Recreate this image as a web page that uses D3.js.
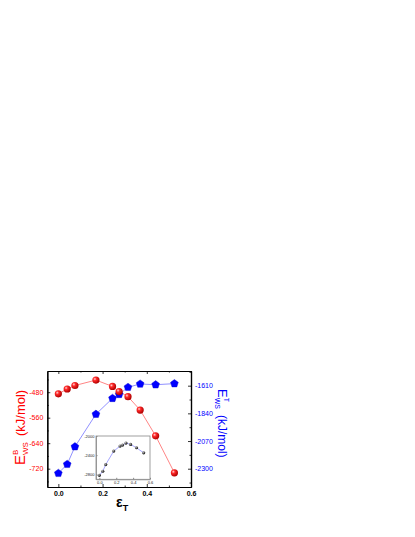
<!DOCTYPE html>
<html lang="en">
<head>
<meta charset="utf-8">
<title>strain energy</title>
<script src="https://cdn.jsdelivr.net/npm/d3@7"></script>
<style>
  body { margin: 0; background: #fff; }
  text { font-family: "Liberation Sans", Arial, sans-serif; }
</style>
</head>
<body>
<script>
// data
var strain = [0, 0.04, 0.075, 0.17, 0.245, 0.275, 0.315, 0.37, 0.44, 0.525];
var eBws = [-485, -470, -459, -442, -462, -478, -494, -536, -617, -733];
var eTws = [-2338, -2263, -2117, -1847, -1715, -1682, -1623, -1596, -1602, -1593];
var insetVals = [-2821, -2737, -2598, -2316, -2211, -2190, -2147, -2177, -2246, -2352];

var xTicks = [0, 0.2, 0.4, 0.6];
var xMinor = [0.1, 0.3, 0.5];
var leftTicks = [-720, -640, -560, -480];
var leftMinor = [-760, -680, -600, -520, -440];
var rightTicks = [-2300, -2070, -1840, -1610];
var rightMinor = [-2415, -2185, -1955, -1725, -1495];
var insetXTicks = [0, 0.2, 0.4, 0.6];
var insetYTicks = [-2800, -2400, -2000];

var w = 415, h = 537;
var box = {l: 47.3, r: 191, t: 371, b: 487};

// plain hyphen minus, no thousands comma
var plain = function(d) { return String(d); };
var oneDec = function(d) { return d.toFixed(1); };

var svg = d3.select("body").append("svg")
  .attr("width", w)
  .attr("height", h);

var defs = svg.append("defs");
var grad = defs.append("radialGradient").attr("id", "ball")
  .attr("cx", "35%").attr("cy", "35%").attr("r", "65%");
grad.append("stop").attr("offset", "0%").attr("stop-color", "#ffd8d8");
grad.append("stop").attr("offset", "35%").attr("stop-color", "#ff2a2a");
grad.append("stop").attr("offset", "100%").attr("stop-color", "#b00000");
var grad2 = defs.append("radialGradient").attr("id", "ballk")
  .attr("cx", "35%").attr("cy", "35%").attr("r", "65%");
grad2.append("stop").attr("offset", "0%").attr("stop-color", "#bbbbbb");
grad2.append("stop").attr("offset", "100%").attr("stop-color", "#111111");

// scales
var x = d3.scaleLinear().domain([-0.05, 0.6]).range([box.l, box.r]);
var yL = d3.scaleLinear().domain([-777.5, -413.5]).range([box.b, box.t]);
var yR = d3.scaleLinear().domain([-2452, -1488]).range([box.b, box.t]);

// pentagon symbol
var pentagon = {
  draw: function(ctx, size) {
    var r = Math.sqrt(size / 2.378);
    for (var i = 0; i < 5; i++) {
      var a = -Math.PI / 2 + i * 2 * Math.PI / 5;
      if (i === 0) ctx.moveTo(r * Math.cos(a), r * Math.sin(a));
      else ctx.lineTo(r * Math.cos(a), r * Math.sin(a));
    }
    ctx.closePath();
  }
};

function styleAxis(g, col) {
  g.select(".domain").attr("stroke", "#000").attr("stroke-width", 1.2);
  g.selectAll(".tick line").attr("stroke", "#000").attr("stroke-width", 0.8);
  g.selectAll(".tick text").attr("fill", col).attr("font-size", 7)
    .attr("font-family", "Liberation Sans, Arial, sans-serif");
}

// bottom axis
var gb = svg.append("g").attr("transform", "translate(0," + box.b + ")")
  .call(d3.axisBottom(x).tickValues(xTicks).tickFormat(oneDec)
    .tickSizeInner(-3).tickSizeOuter(0).tickPadding(4));
styleAxis(gb, "#000");
gb.selectAll(".tick text").attr("font-weight", "bold");
svg.append("g").attr("transform", "translate(0," + box.b + ")")
  .call(d3.axisBottom(x).tickValues(xMinor).tickFormat("").tickSizeInner(-1.5).tickSizeOuter(0))
  .call(styleAxis, "#000");
// top mirror
svg.append("g").attr("transform", "translate(0," + box.t + ")")
  .call(d3.axisTop(x).tickValues(xTicks).tickFormat("").tickSizeInner(-3).tickSizeOuter(0))
  .call(styleAxis, "#000");
svg.append("g").attr("transform", "translate(0," + box.t + ")")
  .call(d3.axisTop(x).tickValues(xMinor).tickFormat("").tickSizeInner(-1.5).tickSizeOuter(0))
  .call(styleAxis, "#000");

// left axis
svg.append("g").attr("transform", "translate(" + box.l + ",0)")
  .call(d3.axisLeft(yL).tickValues(leftTicks).tickFormat(plain)
    .tickSizeInner(-3).tickSizeOuter(0).tickPadding(4))
  .call(styleAxis, "#ff0000");
svg.append("g").attr("transform", "translate(" + box.l + ",0)")
  .call(d3.axisLeft(yL).tickValues(leftMinor).tickFormat("").tickSizeInner(-1.5).tickSizeOuter(0))
  .call(styleAxis, "#ff0000");

// right axis
svg.append("g").attr("transform", "translate(" + box.r + ",0)")
  .call(d3.axisRight(yR).tickValues(rightTicks).tickFormat(plain)
    .tickSizeInner(-3).tickSizeOuter(0).tickPadding(4))
  .call(styleAxis, "#0000ff");
svg.append("g").attr("transform", "translate(" + box.r + ",0)")
  .call(d3.axisRight(yR).tickValues(rightMinor).tickFormat("").tickSizeInner(-1.5).tickSizeOuter(0))
  .call(styleAxis, "#0000ff");

// inset
var ib = {l: 96, r: 150, t: 436, b: 479.3};
var ix = d3.scaleLinear().domain([-0.04, 0.6]).range([ib.l, ib.r]);
var iy = d3.scaleLinear().domain([-2905, -2000]).range([ib.b, ib.t]);
svg.append("rect").attr("x", ib.l).attr("y", ib.t)
  .attr("width", ib.r - ib.l).attr("height", ib.b - ib.t)
  .attr("fill", "#fff").attr("stroke", "#888").attr("stroke-width", 0.8);
var ia = svg.append("g").attr("transform", "translate(0," + ib.b + ")")
  .call(d3.axisBottom(ix).tickValues(insetXTicks).tickFormat(oneDec)
    .tickSizeInner(-1.5).tickSizeOuter(0).tickPadding(1.5));
var ia2 = svg.append("g").attr("transform", "translate(" + ib.l + ",0)")
  .call(d3.axisLeft(iy).tickValues(insetYTicks).tickFormat(plain)
    .tickSizeInner(-1.5).tickSizeOuter(0).tickPadding(1.5));
[ia, ia2].forEach(function(g) {
  g.select(".domain").attr("stroke", "#888").attr("stroke-width", 0.8);
  g.selectAll(".tick line").attr("stroke", "#888");
  g.selectAll(".tick text").attr("font-size", 4).attr("fill", "#222");
});

var insetLine = d3.line().x(function(d, i) { return ix(strain[i]); }).y(function(d) { return iy(d); });
svg.append("path").datum(insetVals).attr("d", insetLine)
  .attr("fill", "none").attr("stroke", "#8080ff").attr("stroke-width", 0.7);
svg.append("g").selectAll("circle").data(insetVals).enter().append("circle")
  .attr("cx", function(d, i) { return ix(strain[i]); })
  .attr("cy", function(d) { return iy(d); })
  .attr("r", 1.6)
  .attr("fill", "url(#ballk)");

// main series
var lineB = d3.line().x(function(d, i) { return x(strain[i]); }).y(function(d) { return yL(d); });
var lineT = d3.line().x(function(d, i) { return x(strain[i]); }).y(function(d) { return yR(d); });

svg.append("path").datum(eBws).attr("d", lineB)
  .attr("fill", "none").attr("stroke", "#ff5050").attr("stroke-width", 0.7);
svg.append("path").datum(eTws).attr("d", lineT)
  .attr("fill", "none").attr("stroke", "#6060ff").attr("stroke-width", 0.7);

svg.append("g").selectAll("path").data(eTws).enter().append("path")
  .attr("d", d3.symbol().type(pentagon).size(40))
  .attr("transform", function(d, i) { return "translate(" + x(strain[i]) + "," + yR(d) + ")"; })
  .attr("fill", "#0000ff").attr("stroke", "#0000cc").attr("stroke-width", 0.4);

svg.append("g").selectAll("circle").data(eBws).enter().append("circle")
  .attr("cx", function(d, i) { return x(strain[i]); })
  .attr("cy", function(d) { return yL(d); })
  .attr("r", 3.6)
  .attr("fill", "url(#ball)");

// axis titles
var lt = svg.append("text").attr("transform", "translate(25,465) rotate(-90)")
  .attr("fill", "#ff0000");
lt.append("tspan").attr("font-size", 15).text("E");
lt.append("tspan").attr("font-size", 8).attr("dy", -7).text("B");
lt.append("tspan").attr("font-size", 8).attr("dx", -5.3).attr("dy", 10).text("WS");
lt.append("tspan").attr("font-size", 13).attr("dx", 6).attr("dy", -3).text("(kJ/mol)");

var rt = svg.append("text").attr("transform", "translate(218,389) rotate(90)")
  .attr("fill", "#0000ff");
rt.append("tspan").attr("font-size", 13).text("E");
rt.append("tspan").attr("font-size", 7).attr("dy", -6).text("T");
rt.append("tspan").attr("font-size", 7).attr("dx", -4.3).attr("dy", 9).text("WS");
rt.append("tspan").attr("font-size", 12).attr("dx", 6).attr("dy", -3).text("(kJ/mol)");

var xt = svg.append("text").attr("x", 116).attr("y", 507).attr("fill", "#000")
  .attr("font-weight", "bold");
xt.append("tspan").attr("font-size", 14).text("\u03b5");
xt.append("tspan").attr("font-size", 9).attr("dy", 4).text("T");
</script>
</body>
</html>
